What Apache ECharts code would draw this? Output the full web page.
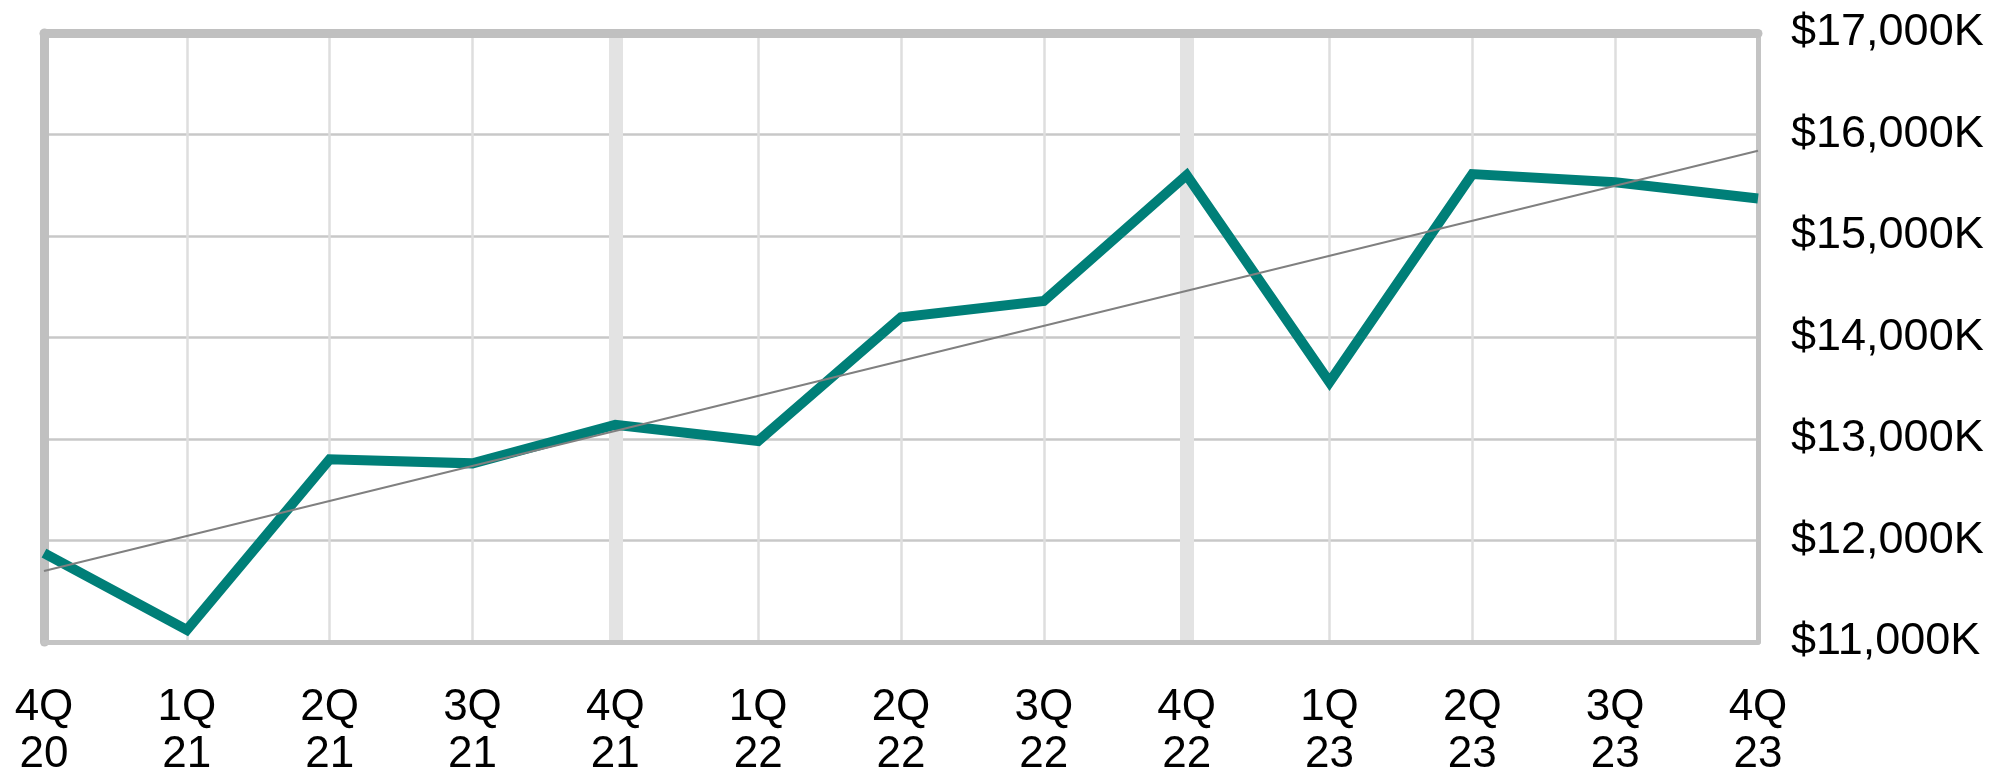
<!DOCTYPE html>
<html>
<head>
<meta charset="utf-8">
<script src="https://cdn.jsdelivr.net/npm/echarts@6/dist/echarts.min.js"></script>
<style>
  html, body { margin: 0; padding: 0; background: #fff; }
  #main { width: 2002px; height: 779px; }
</style>
</head>
<body>
<div id="main"></div>
<script>
// quarters on the x axis
var quarters = ['4Q\n20', '1Q\n21', '2Q\n21', '3Q\n21', '4Q\n21', '1Q\n22', '2Q\n22',
  '3Q\n22', '4Q\n22', '1Q\n23', '2Q\n23', '3Q\n23', '4Q\n23'];
// values in $K
var values = [11875, 11118, 12800, 12760, 13140, 12980, 14200, 14360, 15600, 13560, 15610, 15530, 15370];
// trend line, read at its two ends
var trend = [11700, null, null, null, null, null, null, null, null, null, null, null, 15840];
// year boundaries get a wide light band
var yearEnds = ['4Q\n21', '4Q\n22'];

var yMin = 11000, yMax = 17000, yStep = 1000;

var chart = echarts.init(document.getElementById('main'));
var font = 'Liberation Sans, Arial, sans-serif';

var option = {
  animation: false,
  grid: { left: 44, right: 244, top: 33, bottom: 137 },
  xAxis: [
    { // bottom axis with labels
      type: 'category',
      data: quarters,
      boundaryGap: false,
      position: 'bottom',
      axisLine: { show: true, lineStyle: { color: '#c4c4c4', width: 5 } },
      axisTick: { show: false },
      axisLabel: {
        interval: 0, margin: 42, color: '#000',
        fontFamily: font, fontSize: 44, lineHeight: 47
      },
      splitLine: { show: true, lineStyle: { color: '#dedede', width: 2.5 } }
    },
    { // top border + wide year bands
      type: 'category',
      data: quarters,
      boundaryGap: false,
      position: 'top',
      axisLine: { show: true, lineStyle: { color: '#c0c0c0', width: 9 } },
      axisTick: { show: false },
      axisLabel: { show: false },
      splitLine: {
        show: true,
        interval: function (i, v) { return yearEnds.indexOf(v) >= 0; },
        lineStyle: { color: '#e3e3e3', width: 14 }
      }
    }
  ],
  yAxis: [
    { // right axis with labels
      type: 'value',
      position: 'right',
      min: yMin, max: yMax, interval: yStep,
      axisLine: { show: true, lineStyle: { color: '#c4c4c4', width: 5 } },
      axisTick: { show: false },
      axisLabel: {
        margin: 33, color: '#000', fontFamily: font, fontSize: 45,
        formatter: function (v) { return '$' + v.toLocaleString('en-US') + 'K'; }
      },
      splitLine: { show: true, lineStyle: { color: '#c8c8c8', width: 2.5 } }
    },
    { // left border
      type: 'value',
      position: 'left',
      min: yMin, max: yMax, interval: yStep,
      axisLine: { show: true, lineStyle: { color: '#c0c0c0', width: 9 } },
      axisTick: { show: false },
      axisLabel: { show: false },
      splitLine: { show: false }
    }
  ],
  series: [
    {
      name: 'trend',
      type: 'line',
      data: trend,
      connectNulls: true,
      symbol: 'none',
      lineStyle: { color: '#808080', width: 2 },
      z: 3
    },
    {
      name: 'value',
      type: 'line',
      data: values,
      symbol: 'none',
      lineStyle: { color: '#007f78', width: 10, join: 'miter', miterLimit: 4 },
      z: 2
    }
  ]
};
chart.setOption(option);
</script>
</body>
</html>
